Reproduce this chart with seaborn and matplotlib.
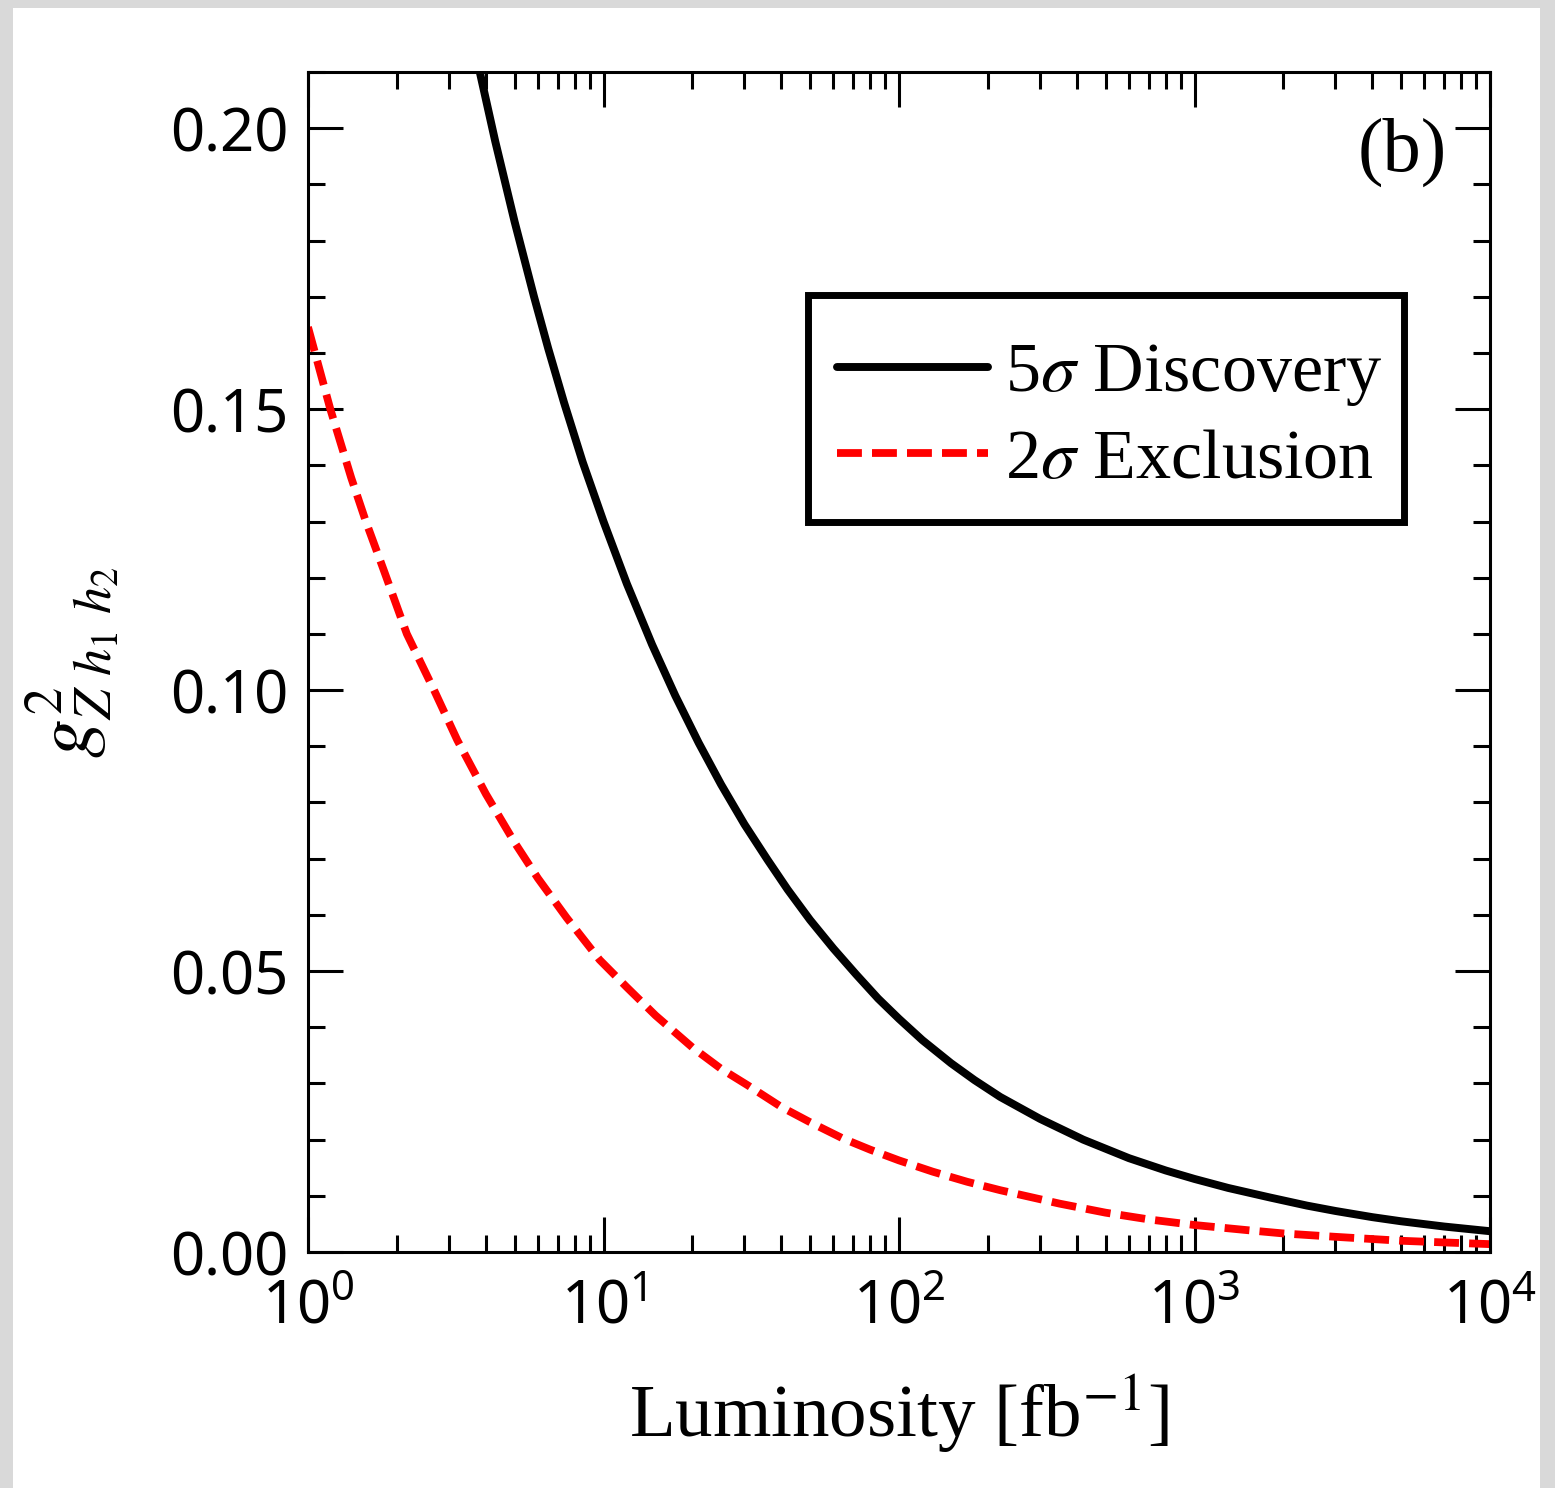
import numpy as np
import pandas as pd
import matplotlib
matplotlib.use("Agg")
import matplotlib.pyplot as plt
import seaborn as sns
from matplotlib.ticker import LogLocator, MultipleLocator, NullFormatter, FormatStrFormatter
from matplotlib.patches import Rectangle

# ---- data ----
lum_disc = [3.7, 4.3, 5, 5.82, 6.5, 7.35, 8.5, 10, 12, 14.6, 17.5, 21, 25, 30, 35.9,
            42, 50, 60, 71.6, 85, 100, 120, 150, 180, 220, 300, 420, 600, 800, 1000,
            1300, 1800, 2400, 3000, 4000, 5000, 7000, 10000]
g2_disc = [0.2131, 0.1977, 0.1834, 0.1700, 0.1608, 0.1512, 0.1406, 0.1300, 0.1189,
           0.1081, 0.0990, 0.0906, 0.0832, 0.0761, 0.0698, 0.0645, 0.0591, 0.0540,
           0.0494, 0.0451, 0.0415, 0.0377, 0.0336, 0.0306, 0.0276, 0.0237, 0.0200,
           0.0167, 0.0145, 0.0130, 0.0114, 0.0097, 0.00826, 0.0073, 0.0062, 0.00547,
           0.00453, 0.0037]

lum_excl = [1, 1.19, 1.4, 1.57, 1.8, 2.16, 2.67, 3.2, 4, 5, 6, 7.5, 9.7, 12, 15, 20,
            25, 30.7, 40, 50, 64.6, 80, 100, 130, 170, 220, 267, 350, 500, 700, 1000,
            1500, 2000, 3000, 5000, 7000, 10000]
g2_excl = [0.1646, 0.1500, 0.1378, 0.1300, 0.1215, 0.1100, 0.1000, 0.0911, 0.0815,
           0.0729, 0.0665, 0.0595, 0.0520, 0.0471, 0.0421, 0.0364, 0.0326, 0.0297,
           0.0258, 0.0231, 0.0202, 0.0182, 0.0163, 0.0143, 0.0125, 0.0110, 0.0100,
           0.0086, 0.0070, 0.0058, 0.0048, 0.0039, 0.0033, 0.0027, 0.0020, 0.0017,
           0.0014]

label_disc = r"5$\sigma$ Discovery"
label_excl = r"2$\sigma$ Exclusion"

sns.set_theme(style="white")
plt.rcParams["font.family"] = ["Noto Sans", "DejaVu Sans"]
plt.rcParams["mathtext.fontset"] = "stix"
for k in ["text.color", "axes.labelcolor", "xtick.color", "ytick.color", "axes.edgecolor"]:
    plt.rcParams[k] = "black"

W, H = 1555, 1488
fig = plt.figure(figsize=(W / 100, H / 100), dpi=100)
fig.patch.set_facecolor("#d9d9d9")
fig.add_artist(Rectangle((13 / W, 0), (1540 - 13) / W, (H - 8) / H,
                         transform=fig.transFigure, facecolor="white",
                         edgecolor="none", zorder=0))

AX_L, AX_R, AX_T, AX_B = 308, 1490, 72, 1252
ax = fig.add_axes([AX_L / W, 1 - AX_B / H, (AX_R - AX_L) / W, (AX_B - AX_T) / H])
ax.set_facecolor("white")


def ax_x(px):
    return (px - AX_L) / (AX_R - AX_L)


def ax_y(py):
    return (AX_B - py) / (AX_B - AX_T)


df_d = pd.DataFrame({"L": lum_disc, "g2": g2_disc})
df_e = pd.DataFrame({"L": lum_excl, "g2": g2_excl})
sns.lineplot(data=df_d, x="L", y="g2", ax=ax, color="black", linewidth=5.7,
             label=label_disc, estimator=None, sort=True)
sns.lineplot(data=df_e, x="L", y="g2", ax=ax, color="#ff0000", linewidth=5.6,
             label=label_excl, estimator=None, sort=True)
ax.lines[1].set_dashes([3.2, 1.3])

ax.set_xscale("log")
ax.set_xlim(1, 1e4)
ax.set_ylim(0, 0.21)

ax.xaxis.set_major_locator(LogLocator(base=10, numticks=10))
ax.xaxis.set_minor_locator(LogLocator(base=10, subs=np.arange(2, 10), numticks=100))
ax.xaxis.set_minor_formatter(NullFormatter())
ax.yaxis.set_major_locator(MultipleLocator(0.05))
ax.yaxis.set_minor_locator(MultipleLocator(0.01))
ax.yaxis.set_major_formatter(FormatStrFormatter("%.2f"))

ax.tick_params(which="both", direction="in", top=True, right=True,
               bottom=True, left=True, width=2.2, color="black")
ax.tick_params(which="major", length=25, labelsize=43, pad=14)
ax.tick_params(which="minor", length=12.5)
ax.tick_params(axis="x", which="major", pad=18)

for s in ax.spines.values():
    s.set_visible(True)
    s.set_linewidth(2.2)
    s.set_color("black")

ax.set_xlabel(r"Luminosity [fb$^{-1}$]", fontsize=54, family="Liberation Serif",
              labelpad=26)
ax.set_ylabel(r"$g^2_{Z\,\,h_1\,\,h_2}$", fontsize=56)
ax.yaxis.set_label_coords(-0.159, 0.5)

ax.text(0.9636, 0.932, "(b)", transform=ax.transAxes, ha="right", va="center",
        fontsize=55, family="Liberation Serif")

# legend box (frame drawn separately to match the reference padding)
ax.add_patch(Rectangle((ax_x(808), ax_y(522)), ax_x(1404) - ax_x(808),
                       ax_y(295) - ax_y(522), transform=ax.transAxes,
                       facecolor="white", edgecolor="black", linewidth=5,
                       zorder=4, clip_on=False))
leg = ax.legend(loc="upper left", bbox_to_anchor=(ax_x(837), ax_y(342)),
                prop={"family": "Liberation Serif", "size": 50.5},
                frameon=False, handlelength=2.15, handletextpad=0.24,
                borderpad=0, labelspacing=0.29, borderaxespad=0)
leg.set_zorder(5)

fig.savefig("out.png", dpi=100, facecolor=fig.get_facecolor())
